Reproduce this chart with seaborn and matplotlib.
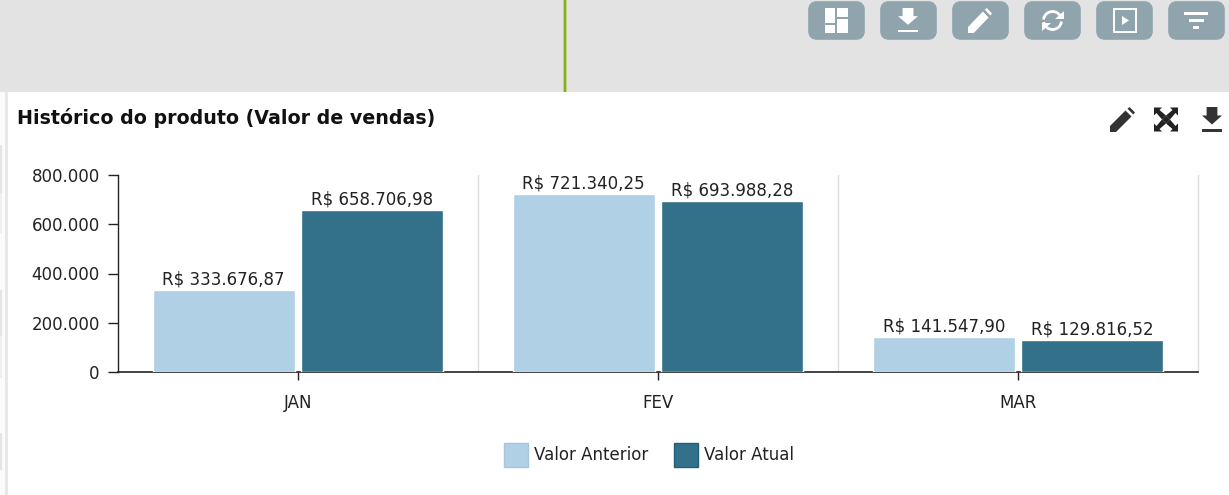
import matplotlib
matplotlib.use('Agg')
import matplotlib.pyplot as plt
import matplotlib.ticker as ticker
from matplotlib.patches import Rectangle, FancyBboxPatch, Polygon, Arc
import pandas as pd
import seaborn as sns

W, H = 1229, 495

meses = ['JAN', 'FEV', 'MAR']
valor_anterior = [333676.87, 721340.25, 141547.90]
valor_atual = [658706.98, 693988.28, 129816.52]
rotulos_anterior = ['R$ 333.676,87', 'R$ 721.340,25', 'R$ 141.547,90']
rotulos_atual = ['R$ 658.706,98', 'R$ 693.988,28', 'R$ 129.816,52']
series = ['Valor Anterior', 'Valor Atual']
cores = ['#b0d0e6', '#33708a']
yticks = [0, 200000, 400000, 600000, 800000]

GRAY = '#e3e3e3'
BTN = '#90a4ae'
DARK = '#333333'


def px(x, y):
    # pixels from top left -> figure fraction
    return x / W, 1 - y / H


def rect(x0, y0, x1, y1, color, **kw):
    fig.add_artist(Rectangle(px(x0, y1), (x1 - x0) / W, (y1 - y0) / H, transform=fig.transFigure,
                             facecolor=color, edgecolor=kw.pop('edge', 'none'), **kw))


def poly(pts, color):
    fig.add_artist(Polygon([px(*p) for p in pts], closed=True, transform=fig.transFigure,
                           facecolor=color, edgecolor='none'))


def pencil(x0, y0, x1, y1, color):
    # corpo e ponta separados, como no icone original
    s = x1 - x0
    h = y1 - y0
    poly([(x0, y1), (x0, y1 - h * 0.24), (x0 + s * 0.62, y0 + h * 0.14), (x0 + s * 0.86, y0 + h * 0.38),
          (x0 + s * 0.24, y1)], color)
    poly([(x0 + s * 0.70, y0 + h * 0.07), (x0 + s * 0.78, y0), (x1, y0 + h * 0.22), (x0 + s * 0.93, y0 + h * 0.30)], color)


def download(x0, y0, x1, y1, color):
    cx = (x0 + x1) / 2
    h = y1 - y0
    w = x1 - x0
    poly([(cx - w * 0.27, y0), (cx + w * 0.27, y0), (cx + w * 0.27, y0 + h * 0.34), (cx + w * 0.5, y0 + h * 0.34),
          (cx, y0 + h * 0.70), (cx - w * 0.5, y0 + h * 0.34), (cx - w * 0.27, y0 + h * 0.34)], color)
    rect(x0, y1 - h * 0.1, x1, y1, color)


def reload_icon(cx, cy, r, color):
    for t1, t2 in [(25, 165), (205, 345)]:
        fig.add_artist(Arc(px(cx, cy), 2 * r / W, 2 * r / H, theta1=t1, theta2=t2, transform=fig.transFigure,
                           color=color, linewidth=2))
    poly([(cx + r + 2, cy - r - 1), (cx + r + 2, cy - 2), (cx + r - 7, cy - 2)], color)
    poly([(cx - r - 2, cy + r + 1), (cx - r - 2, cy + 2), (cx - r + 7, cy + 2)], color)


sns.set_theme(style='white')
plt.rcParams['font.family'] = ['DejaVu Sans']

fig = plt.figure(figsize=(W / 100, H / 100), dpi=100, facecolor='white')

# faixa cinza do topo e separadores
rect(0, 0, W, 92, GRAY)
rect(562.5, 0, 566.5, 92, '#bcd08a')
rect(563.5, 0, 565.5, 92, '#86b01a')
rect(0, 92, 5, H, '#fbfbfb')
rect(5, 92, 7.5, H, '#e8e8e8')
rect(0, 145, 1.5, 193, '#e4e4e4')
rect(0, 193, 1.5, 233, '#efefef')
rect(0, 290, 1.5, 336, '#e4e4e4')
rect(0, 336, 1.5, 378, '#efefef')
rect(0, 433, 1.5, 470, '#e4e4e4')

# botoes
btn_x = [808, 880, 952, 1024, 1096, 1168]
for x in btn_x:
    fig.add_artist(FancyBboxPatch(px(x + 4, 36), 49 / W, 31 / H, transform=fig.transFigure,
                                  boxstyle='round,pad=0,rounding_size=0.004', mutation_aspect=2.5,
                                  facecolor=BTN, edgecolor=BTN, linewidth=5.5))
rect(825, 8, 835, 23, 'white')
rect(825, 25, 835, 33, 'white')
rect(837, 8, 848, 17, 'white')
rect(837, 19, 848, 33, 'white')
download(898, 8, 918, 32, 'white')
pencil(968, 8, 992, 33, 'white')
reload_icon(1052.5, 20.5, 9, 'white')
fig.add_artist(Rectangle(px(1114, 32), 22 / W, 23 / H, transform=fig.transFigure, facecolor='none',
                         edgecolor='white', linewidth=1.4))
poly([(1122, 16), (1122, 25), (1129, 20.5)], 'white')
rect(1184, 12.5, 1208, 15, 'white')
rect(1189, 19, 1204, 21.5, 'white')
rect(1193, 26, 1199, 28.5, 'white')

# icones do painel
pencil(1110, 107, 1135, 132, DARK)
download(1202, 107, 1222, 132, DARK)
cx, cy = 1166, 119.5
poly([(cx - 4, cy), (cx, cy - 4), (cx + 4, cy), (cx, cy + 4)], '#222222')
for sx in (-1, 1):
    for sy in (-1, 1):
        poly([(cx + sx * 12, cy + sy * 12), (cx + sx * 4, cy + sy * 12), (cx + sx * 6.5, cy + sy * 9.5),
              (cx, cy + sy * 4), (cx + sx * 4, cy), (cx + sx * 9.5, cy + sy * 6.5),
              (cx + sx * 12, cy + sy * 4)], '#222222')

fig.text(*px(17, 118), 'Histórico do produto (Valor de vendas)', fontsize=13.7, fontweight='bold',
         color='#111111', ha='left', va='center')

# grafico
ax = fig.add_axes([118 / W, 1 - 372 / H, 1080 / W, 197 / H])
df = pd.DataFrame({
    'mes': meses * 2,
    'serie': [series[0]] * 3 + [series[1]] * 3,
    'valor': valor_anterior + valor_atual,
})
sns.barplot(data=df, x='mes', y='valor', hue='serie', hue_order=series, palette=cores, saturation=1,
            width=0.825, gap=0.045, legend=False, ax=ax, zorder=3)
ax.set_xlim(-0.5, 2.5)
ax.set_ylim(0, 800000)
ax.set_xlabel('')
ax.set_ylabel('')
ax.set_yticks(yticks)
ax.yaxis.set_major_formatter(ticker.FuncFormatter(lambda v, p: f'{int(v):,}'.replace(',', '.')))
ax.patch.set_alpha(0)

ax.spines['top'].set_visible(False)
ax.spines['right'].set_visible(True)
ax.spines['right'].set_color('#dddddd')
ax.spines['right'].set_linewidth(1)
ax.spines['left'].set_color('#222222')
ax.spines['left'].set_linewidth(1)
ax.spines['bottom'].set_color('#222222')
ax.spines['bottom'].set_linewidth(1.2)
for x in [0.5, 1.5]:
    ax.axvline(x, color='#dddddd', lw=1, zorder=1)
ax.tick_params(axis='y', length=7.2, width=1, color='#222222', labelsize=12, labelcolor='#222222', pad=6, left=True)
ax.tick_params(axis='x', length=5.5, width=1, color='#222222', labelsize=12, labelcolor='#222222', pad=10, bottom=True)

for cont, rotulos in zip(ax.containers, [rotulos_anterior, rotulos_atual]):
    ax.bar_label(cont, labels=rotulos, padding=1, fontsize=12, color='#222222')

# legenda
leg = [(503.5, 527.5, series[0], 534, '#a3c6de'), (673.5, 697.5, series[1], 704, '#1f5f7c')]
for (x0, x1, nome, tx, borda), cor in zip(leg, cores):
    rect(x0, 443, x1, 467, cor, edge=borda, linewidth=1)
    fig.text(*px(tx, 455.5), nome, fontsize=12, color='#222222', ha='left', va='center')

fig.savefig('out.png', dpi=100)
